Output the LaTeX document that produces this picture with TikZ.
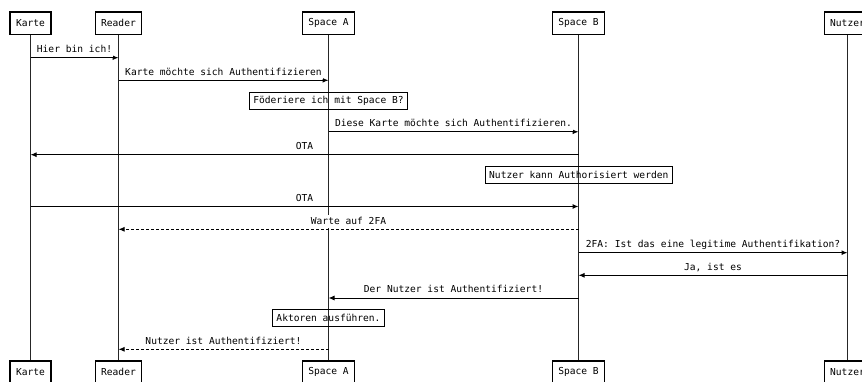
\documentclass[tikz,border=0pt]{standalone}
\usepackage{fontspec}
\setmonofont{DejaVu Sans Mono}
\usetikzlibrary{arrows.meta}
\begin{document}
\begin{tikzpicture}[x=1pt,y=-1pt,
  font=\ttfamily\fontsize{9.6}{11}\selectfont,
  actor/.style={draw, line width=1.3pt, minimum height=22.7pt, inner xsep=6pt, inner ysep=0pt},
  note/.style={draw, line width=1.3pt, minimum height=17pt, inner xsep=4pt, inner ysep=0pt},
  life/.style={line width=1pt, draw=black!85},
  msg/.style={line width=1pt, -{Latex[length=6pt,width=5pt]}},
  reply/.style={msg, dash pattern=on 3pt off 2pt},
  lbl/.style={fill=white, anchor=south, yshift=0.6pt, text height=7.5pt,
              text depth=2pt, inner xsep=1pt, inner ysep=2pt}
]
\useasboundingbox (0,0) rectangle (862,382);

% participants, top and bottom
\foreach \id/\x/\name in {k/30.5/Karte, r/118.5/Reader, a/328.5/Space A, b/578.5/Space B, n/847.5/Nutzer}{
  \node[actor] (\id T) at (\x,23.4) {\name};
  \node[actor] (\id B) at (\x,372.4) {\name};
}

% lifelines
\foreach \id in {k,r,a,b,n}{
  \draw[life] (\id T) -- (\id B);
}

% rows of the message sequence
\coordinate (m1) at (0,57.7);
\coordinate (m2) at (0,80.3);
\coordinate (m3) at (0,131.8);
\coordinate (m4) at (0,154.7);
\coordinate (m5) at (0,206.5);
\coordinate (m6) at (0,229.3);
\coordinate (m7) at (0,252.7);
\coordinate (m8) at (0,275.3);
\coordinate (m9) at (0,298);
\coordinate (m10) at (0,349.3);

% notes
\node[note] (n1) at (328.5,101) {Föderiere ich mit Space B?};
\node[note] (n2) at (578.8,175.3) {Nutzer kann Authorisiert werden};
\node[note] (n3) at (328.5,318.3) {Aktoren ausführen.};

% messages
\draw[msg] (kT |- m1) -- (rT |- m1) node[midway,lbl] {Hier bin ich!};
\draw[msg] (rT |- m2) -- (aT |- m2) node[midway,lbl] {Karte möchte sich Authentifizieren};
\draw[msg] (aT |- m3) -- (bT |- m3) node[midway,lbl] {Diese Karte möchte sich Authentifizieren.};
\draw[msg] (bT |- m4) -- (kT |- m4) node[midway,lbl] {OTA};
\draw[msg] (kT |- m5) -- (bT |- m5) node[midway,lbl] {OTA};
\draw[reply] (bT |- m6) -- (rT |- m6) node[midway,lbl] {Warte auf 2FA};
\draw[msg] (bT |- m7) -- (nT |- m7) node[midway,lbl] {2FA: Ist das eine legitime Authentifikation?};
\draw[msg] (nT |- m8) -- (bT |- m8) node[midway,lbl] {Ja, ist es};
\draw[msg] (bT |- m9) -- (aT |- m9) node[midway,lbl] {Der Nutzer ist Authentifiziert!};
\draw[reply] (aT |- m10) -- (rT |- m10) node[midway,lbl] {Nutzer ist Authentifiziert!};
\end{tikzpicture}
\end{document}
